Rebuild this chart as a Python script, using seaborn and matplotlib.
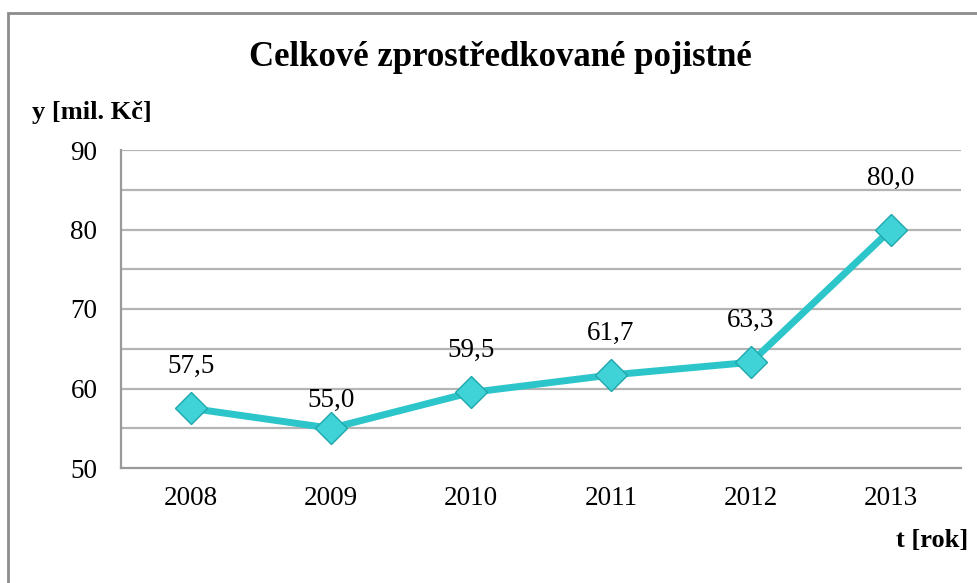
import pandas as pd
import numpy as np
import matplotlib
matplotlib.use("Agg")
import matplotlib.pyplot as plt
from matplotlib.patches import Rectangle
import seaborn as sns

# Chart data
years = ['2008', '2009', '2010', '2011', '2012', '2013']
premium = [57.5, 55.0, 59.5, 61.7, 63.3, 80.0]
value_labels = ['57,5', '55,0', '59,5', '61,7', '63,3', '80,0']
y_ticks = [50, 60, 70, 80, 90]

df = pd.DataFrame({'Rok': years, 'Pojistne': premium})
df['pos'] = np.arange(len(df))

sns.set_style("white")
plt.rcParams['font.family'] = ['Liberation Serif', 'DejaVu Serif']
plt.rcParams['text.color'] = 'black'
plt.rcParams['xtick.labelcolor'] = 'black'
plt.rcParams['ytick.labelcolor'] = 'black'

line_color = '#2cc5ca'
grid_color = '#b4b4b4'
axis_color = '#9a9a9a'

fig = plt.figure(figsize=(9.77, 5.83), dpi=100)
ax = fig.add_axes([121 / 977, 1 - 468 / 583, 840 / 977, 318 / 583])

# outer chart frame (partly cut off like the source)
fig.add_artist(Rectangle((8 / 977, -0.05), 1.1, 1 - 13 / 583 + 0.05,
                         transform=fig.transFigure, fill=False,
                         edgecolor='#8c8c8c', linewidth=2, clip_on=False))

# horizontal gridlines every 5
for yv in np.arange(55, 91, 5):
    ax.axhline(yv, color=grid_color, linewidth=1.6, zorder=0)

sns.lineplot(data=df, x='pos', y='Pojistne', ax=ax, color=line_color,
             linewidth=5, marker='D', markersize=16,
             markerfacecolor='#3fd3d8', markeredgecolor='#1fa7ac',
             markeredgewidth=1.0, zorder=3)

# data labels above points
offsets = [21, 11, 21, 21, 21, 28]
for i, (v, lab) in enumerate(zip(premium, value_labels)):
    ax.annotate(lab, (i, v), xytext=(0, offsets[i]), textcoords='offset points',
                ha='center', va='bottom', fontsize=19.5, color='black')

ax.set_xlim(-0.5, 5.5)
ax.set_ylim(50, 90)
ax.set_yticks(y_ticks)
ax.set_yticklabels([str(t) for t in y_ticks], fontsize=19.5)
ax.set_xticks(df['pos'])
ax.set_xticklabels(years, fontsize=19.5)
ax.set_xticks(np.arange(-0.5, 6, 1), minor=True)
ax.tick_params(axis='x', which='major', length=0, pad=13, labelcolor='black')
ax.tick_params(axis='x', which='minor', length=8, width=1.6, color=axis_color, direction='out')
ax.tick_params(axis='y', length=0, pad=17, labelcolor='black')
ax.set_xlabel('')
ax.set_ylabel('')

for side in ['top', 'right']:
    ax.spines[side].set_visible(False)
for side in ['left', 'bottom']:
    ax.spines[side].set_color(axis_color)
    ax.spines[side].set_linewidth(1.6)

fig.text(500 / 977, 1 - 57 / 583, 'Celkové zprostředkované pojistné',
         ha='center', va='center', fontsize=25, fontweight='bold', color='black')
fig.text(32 / 977, 1 - 113 / 583, 'y [mil. Kč]', ha='left', va='center',
         fontsize=19, fontweight='bold', color='black')
fig.text(968 / 977, 1 - 540 / 583, 't [rok]', ha='right', va='center',
         fontsize=19, fontweight='bold', color='black')

fig.savefig('out.png', dpi=100)
